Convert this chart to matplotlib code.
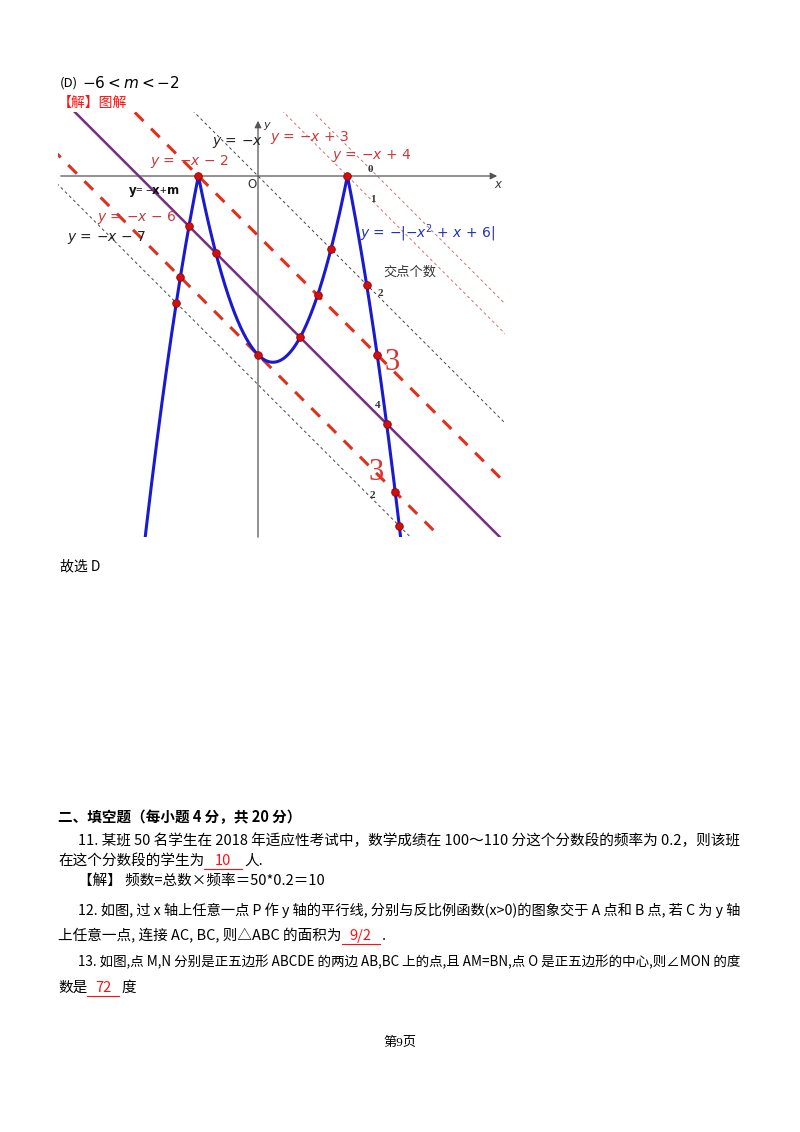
import numpy as np
import matplotlib
matplotlib.use("Agg")
import matplotlib.pyplot as plt

plt.rcParams['font.family'] = ['Noto Sans CJK SC', 'DejaVu Sans']
plt.rcParams['mathtext.fontset'] = 'dejavusans'

# data
red_m = [-2, -6]
purple_m = [-4]
gray_m = [0, -7]
pink_m = [3, 4]
point_m = [3, 0, -2, -4, -6, -7]
count_labels = ["0", "1", "2", "3", "4", "3", "2"]

W, H = 800, 1132
fig = plt.figure(figsize=(W/100, H/100), dpi=100)
rend = fig.canvas.get_renderer()

def T(px, py, s, **kw):
    return fig.text(px/W, 1-py/H, s, **kw)

def fit(px, py, s, right, fs=10.5, **kw):
    t = T(px, py, s, fontsize=fs, va='center', **kw)
    w = t.get_window_extent(rend).width
    t.set_fontsize(fs * (right - px) / w)
    return t

def seq(px, py, parts, fs=10.5):
    x = px
    for p in parts:
        if p[1] == 'n':
            t = T(x, py, p[0], fontsize=fs, va='center')
            x = t.get_window_extent(rend).x1
        else:
            txt, w = p[0], p[2]
            T(x + w/2, py, txt, fontsize=fs, va='center', color='#ff1010', ha='center')
            fig.add_artist(plt.Line2D([x/W, (x+w)/W], [1-(py+8)/H]*2, color='#ff1010', lw=0.8))
            x += w + 2

# graph axes, pixel box
L, R, Tp, B = 58, 505, 112, 537
ox, oy, s = 258, 176, 29.8
ax = fig.add_axes([L/W, 1-B/H, (R-L)/W, (B-Tp)/H])
ax.set_xlim((L-ox)/s, (R-ox)/s)
ax.set_ylim((oy-B)/s, (oy-Tp)/s)
ax.axis('off')
def D(px, py):
    return (px-ox)/s, (oy-py)/s

xs = np.linspace(-8, 9, 400)
ax.annotate('', xy=D(500, 176), xytext=D(58, 176),
            arrowprops=dict(arrowstyle='-|>', color='#555', lw=0.9))
ax.annotate('', xy=D(258, 118), xytext=D(258, 540),
            arrowprops=dict(arrowstyle='-|>', color='#555', lw=0.9))
for m in gray_m:
    ax.plot(xs, -xs+m, color='#444', lw=0.7, ls=(0, (3, 3)))
for m in pink_m:
    ax.plot(xs, -xs+m, color='#d07070', lw=0.7, ls=(0, (3, 3)))
for m in red_m:
    ax.plot(xs, -xs+m, color='#e0301e', lw=2.2, ls=(0, (4, 3.5)))
for m in purple_m:
    ax.plot(xs, -xs+m, color='#7a2a8a', lw=1.8)
cx = np.linspace(-4.5, 5.5, 800)
ax.plot(cx, -np.abs(-cx**2+cx+6), color='#1a1ad0', lw=2.2)

pts = []
for m in point_m:
    c = []
    if 6+m >= 0:
        r = np.sqrt(6+m); c += [r, -r]
    if 7-m >= 0:
        r = np.sqrt(7-m); c += [1+r, 1-r]
    for x in c:
        if -2-1e-9 <= x <= 3+1e-9 and abs(x**2-x-6 - (-x+m)) < 1e-6:
            pts.append((x, -x+m))
        elif (x <= -2 or x >= 3) and abs(-x**2+x+6 - (-x+m)) < 1e-6:
            pts.append((x, -x+m))
pts = list({(round(a, 4), round(b, 4)) for a, b in pts})
ax.scatter([p[0] for p in pts], [p[1] for p in pts], s=30, color='#d01010',
           edgecolor='#900', lw=0.6, zorder=5)

def AT(px, py, t, **kw):
    ax.text(*D(px, py), t, va='center', **kw)
AT(212, 142, r'$y$ = −$x$', color='#222', fontsize=10, family='DejaVu Sans')
AT(270, 138, r'$y$ = −$x$ + 3', color='#c83a3a', fontsize=10, family='DejaVu Sans')
AT(332, 155, r'$y$ = −$x$ + 4', color='#c83a3a', fontsize=10, family='DejaVu Sans')
AT(150, 162, r'$y$ = −$x$ − 2', color='#c83a3a', fontsize=10, family='DejaVu Sans')
AT(97, 217, r'$y$ = −$x$ − 6', color='#c83a3a', fontsize=10, family='DejaVu Sans')
AT(67, 238, r'$y$ = −$x$ − 7', color='#222', fontsize=10, family='DejaVu Sans')
AT(128, 192, r'$\mathbf{y}$= −$\mathbf{x}$+$\mathbf{m}$', color='#111', fontsize=8.5,
   family='Liberation Serif', weight='bold')
AT(360, 233, r'$y$ = −|−$x^2$ + $x$ + 6|', color='#2233aa', fontsize=10, family='DejaVu Sans')
AT(383, 272, '交点个数', color='#333', fontsize=9.5)
AT(247, 184, 'O', color='#333', fontsize=8.5, family='DejaVu Sans')
AT(494, 184, '$x$', color='#333', fontsize=8.5)
AT(263, 126, '$y$', color='#333', fontsize=8)
cp = [(368, 170), (370, 199), (378, 294), (390, 363), (375, 406), (375, 473), (369, 496)]
for (px, py), lab in zip(cp, count_labels):
    if (px, py) in [(390, 363), (375, 473)]:
        AT(px-6, py, lab, color='#e03030', fontsize=22, family='Liberation Serif')
    else:
        AT(px, py, lab, color='#333', fontsize=8, family='Liberation Serif', weight='bold')

# page text
T(60, 83, '(D)', fontsize=9.5, va='center')
T(82, 83, r'$-6<m<-2$', fontsize=11, va='center', family='Liberation Serif')
T(58, 103, '【解】图解', fontsize=10, color='#ff1010', va='center')
T(60, 566, '故选 D', fontsize=10, va='center')
T(58, 817, '二、填空题（每小题 4 分，共 20 分）', fontsize=10.5, weight='bold', va='center')
fit(78, 841, '11. 某班 50 名学生在 2018 年适应性考试中，数学成绩在 100～110 分这个分数段的频率为 0.2，则该班', 743)
seq(58, 861, [('在这个分数段的学生为', 'n'), ('10', 'b', 38), ('人.', 'n')])
T(78, 881, '【解】 频数=总数×频率＝50*0.2＝10', fontsize=10.5, va='center')
fit(78, 910, '12. 如图, 过 x 轴上任意一点 P 作 y 轴的平行线, 分别与反比例函数(x>0)的图象交于 A 点和 B 点, 若 C 为 y 轴', 743)
seq(58, 936, [('上任意一点, 连接 AC, BC, 则△ABC 的面积为', 'n'), ('9/2', 'b', 38), ('.', 'n')])
fit(78, 962, '13. 如图,点 M,N 分别是正五边形 ABCDE 的两边 AB,BC 上的点,且 AM=BN,点 O 是正五边形的中心,则∠MON 的度', 743)
seq(58, 988, [('数是', 'n'), ('72', 'b', 32), ('度', 'n')])
T(400, 1043, '第9页', fontsize=9.5, ha='center', va='center', family=['Liberation Serif', 'Noto Sans CJK SC'])

fig.savefig('out.png', dpi=100)
